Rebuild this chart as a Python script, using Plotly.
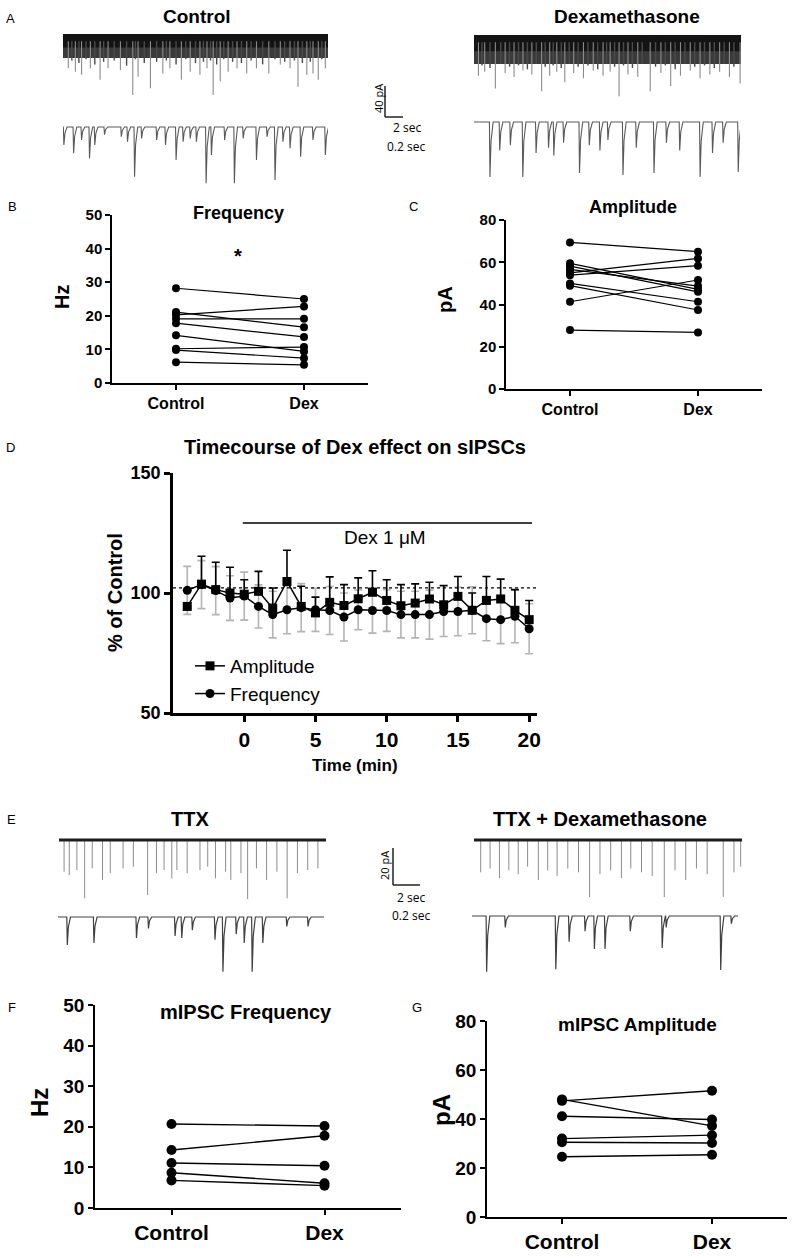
import plotly.graph_objects as go

W, H = 800, 1258
FONT = "Arial, 'Liberation Sans', sans-serif"

# ---------------- data ----------------
categories = ["Control", "Dex"]

# B: sIPSC frequency (Hz), paired cells
freq_control = [28.2, 20.3, 21.1, 19.1, 17.8, 14.2, 10.2, 9.8, 6.2]
freq_dex = [25.0, 22.8, 16.6, 19.1, 13.7, 9.4, 10.7, 7.4, 5.4]
freq_ticks = [0, 10, 20, 30, 40, 50]

# C: sIPSC amplitude (pA), paired cells
amp_control = [69.4, 27.9, 41.3, 55.0, 53.9, 59.5, 58.2, 56.6, 50.0, 48.9]
amp_dex = [65.0, 26.8, 51.6, 61.8, 58.4, 47.2, 46.0, 48.7, 41.3, 37.4]
amp_ticks = [0, 20, 40, 60, 80]

# D: timecourse (% of control)
time_min = [-4, -3, -2, -1, 0, 1, 2, 3, 4, 5, 6, 7, 8, 9, 10, 11, 12, 13, 14, 15, 16, 17, 18, 19, 20]
amp_pct = [94.4, 103.7, 101.4, 100.0, 99.5, 100.7, 93.7, 104.8, 94.4, 91.7, 96.1, 94.8, 97.6,
           100.3, 96.9, 94.7, 95.8, 97.5, 95.1, 98.6, 92.8, 96.9, 97.5, 92.8, 88.9]
amp_pct_err = [1.5, 11.6, 11.4, 10.7, 6.0, 8.3, 8.4, 13.0, 8.4, 6.6, 10.6, 8.7, 8.7,
               9.0, 8.6, 8.8, 8.0, 7.0, 8.0, 8.3, 7.2, 10.0, 8.3, 8.6, 8.0]
freq_pct = [101.1, 103.5, 101.0, 97.9, 98.7, 94.4, 91.0, 93.0, 93.9, 93.0, 92.7, 90.0, 93.0,
            92.7, 92.7, 91.0, 91.0, 91.0, 92.3, 92.3, 92.8, 89.3, 88.9, 90.3, 85.1]
freq_pct_err = [10.0, 10.0, 10.0, 9.3, 10.0, 9.0, 9.7, 10.0, 10.0, 9.0, 10.0, 10.0, 8.3,
                9.4, 8.7, 9.7, 9.7, 10.2, 10.4, 10.1, 9.8, 9.2, 10.0, 11.0, 10.4]
time_ticks = [0, 5, 10, 15, 20]
pct_ticks = [50, 100, 150]
dex_window = [-0.1, 20.2]
dex_bar_level = 129.2
baseline_level = 102.1

# F: mIPSC frequency (Hz)
mfreq_control = [20.7, 14.3, 11.1, 8.7, 6.8]
mfreq_dex = [20.2, 17.8, 10.4, 6.1, 5.5]
# G: mIPSC amplitude (pA)
mamp_control = [47.4, 48.0, 41.1, 32.0, 30.5, 24.6]
mamp_dex = [51.5, 37.2, 39.8, 33.4, 30.2, 25.4]

# A: example sIPSC traces (event time, event amplitude)
ctrl_top_t = [0.6, 1.4, 2.1, 3.1, 4.2, 5.1, 6.5, 7.9, 8.5, 9.9, 11.3, 12.1, 13.4, 14.4, 15.5, 16.3, 17.0,
              17.8, 18.7, 19.7, 20.8, 21.9, 23.3, 24.6, 25.7, 26.6, 27.6, 28.3, 28.9, 29.7]
ctrl_top_a = [25, 27.7, 30, 25, 34, 25, 26.4, 45.7, 31.5, 40.5, 29, 25, 34, 27.7, 30, 25, 45.7,
              35, 27.7, 25, 29, 25, 29, 22, 25, 39.3, 30, 29, 34, 25]
ctrl_top_small_t = [1.0, 1.8, 2.6, 3.6, 4.6, 5.8, 7.2, 8.2, 9.2, 10.6, 11.7, 12.8, 13.9, 15.0, 15.9, 16.7,
                    17.4, 18.2, 19.2, 20.2, 21.3, 22.6, 24.0, 25.1, 26.2, 27.1, 28.0, 29.3]
ctrl_top_small_a = [19, 21, 18, 22, 20, 19, 23, 18, 21, 20, 19, 22, 18, 21, 20, 19, 22, 18, 20, 21,
                    19, 22, 18, 20, 19, 21, 20, 18]
dex_top_t = [0.5, 1.2, 2.4, 3.5, 4.5, 5.5, 6.5, 7.6, 8.5, 9.3, 10.2, 11.2, 12.3, 13.4, 14.5, 15.3, 16.3,
             17.3, 18.4, 19.8, 21.0, 22.1, 23.2, 24.3, 25.4, 26.5, 27.6, 28.7, 29.9]
dex_top_a = [30, 27, 40, 28, 31, 26, 29, 42, 30, 27, 35, 28, 32, 26, 30, 27, 46, 29, 31, 42, 28, 38,
             30, 26, 32, 29, 27, 31, 36]
dex_top_small_t = [0.9, 1.8, 3.0, 4.0, 5.0, 6.0, 7.0, 8.0, 8.9, 9.8, 10.7, 11.7, 12.8, 13.9, 14.9, 15.8,
                   16.8, 17.8, 18.9, 20.4, 21.5, 22.6, 23.7, 24.8, 25.9, 27.0, 28.1, 29.2]
dex_top_small_a = [22, 24, 21, 23, 22, 25, 21, 23, 22, 24, 21, 23, 22, 25, 21, 23, 22, 24, 21, 23,
                   22, 25, 21, 23, 22, 24, 21, 23]
ctrl_bot_t = [0.01, 0.12, 0.21, 0.30, 0.36, 0.47, 0.66, 0.73, 0.81, 0.89, 1.06, 1.16, 1.28, 1.36, 1.44,
              1.51, 1.62, 1.68, 1.83, 1.94, 2.04, 2.19, 2.31, 2.40, 2.49, 2.57, 2.69, 2.83, 2.97]
ctrl_bot_a = [14, 20.4, 10, 24.3, 14, 6, 7.5, 11.4, 38.5, 8.8, 10, 14, 25.6, 11.4, 8.8, 11.4, 43.6,
              21.7, 10, 43.6, 8.8, 25.6, 7.5, 41, 11.4, 16.5, 23, 10, 21.7]
dex_bot_t = [0.18, 0.29, 0.41, 0.55, 0.70, 0.84, 0.90, 1.01, 1.19, 1.30, 1.42, 1.51, 1.68, 1.83, 2.03,
             2.17, 2.32, 2.55, 2.69, 2.81, 2.98]
dex_bot_a = [42.6, 22, 18, 42.6, 24, 20, 26, 16, 39.5, 18, 22, 14, 41, 20, 39.5, 16, 22, 42.6, 24, 16, 38.8]

# E: example mIPSC traces (event time, event amplitude)
ttx_top_t = [0.38, 0.77, 1.34, 1.92, 2.49, 3.26, 3.84, 4.80, 5.57, 6.64, 7.30, 7.87, 8.45, 8.83, 9.60,
             10.56, 11.14, 11.72, 12.48, 12.87, 13.63, 14.13, 14.79, 15.55, 16.32, 17.09, 17.86, 18.63, 19.39]
ttx_top_a = [16.7, 18.4, 15.8, 30.7, 14.9, 21, 17.5, 14.9, 14, 28.9, 17.5, 15.8, 20.2, 15.8, 17.5,
             15.8, 14, 20.2, 16.7, 21, 17.5, 31.2, 14.9, 21, 16.7, 30.7, 17.5, 15.8, 14.9]
ttxdex_top_t = [0.5, 1.2, 1.9, 2.6, 3.3, 4.0, 4.8, 5.5, 6.2, 7.0, 7.8, 8.63, 9.4, 10.2, 11.0, 11.7, 12.5,
                13.3, 14.2, 15.0, 15.8, 16.6, 17.4, 18.6, 19.4, 19.9]
ttxdex_top_a = [17, 15, 20, 16, 18, 14, 21, 16, 19, 15, 17, 30, 18, 16, 20, 15, 17, 19, 30, 16, 21, 15,
                18, 30, 17, 14]
ttx_bot_t = [0.07, 0.27, 0.59, 0.68, 0.88, 0.93, 1.01, 1.18, 1.24, 1.34, 1.40, 1.46, 1.54, 1.72, 1.88]
ttx_bot_a = [14.7, 13.7, 11, 6, 10, 11, 7, 12, 28.8, 9, 13.7, 28.8, 13.7, 5, 5]
ttxdex_bot_t = [0.11, 0.25, 0.63, 0.73, 0.85, 0.92, 1.00, 1.19, 1.43, 1.46, 1.87, 1.95]
ttxdex_bot_a = [29.3, 6, 28, 13.5, 8, 17.4, 17.4, 8, 16.8, 6, 28.4, 4]

# ---------------- layout helpers ----------------
def px_x(p):
    return p / W


def px_y(p):
    return 1 - p / H


def dom_x(a, b):
    return [a / W, b / W]


def dom_y(top, bottom):
    return [1 - bottom / H, 1 - top / H]


def ax_name(n, kind):
    return f"{kind}axis" if n == 1 else f"{kind}axis{n}"


def ref(n, kind):
    return kind if n == 1 else f"{kind}{n}"


layout = dict(
    width=W, height=H, autosize=False,
    margin=dict(l=0, r=0, t=0, b=0, pad=0, autoexpand=False),
    paper_bgcolor="white", plot_bgcolor="white",
    font=dict(family=FONT, color="black"),
    showlegend=True,
)
fig = go.Figure()


def trace_axes(n, x0, x1, top, bot, duration, base_px, ppu):
    layout[ax_name(n, "x")] = dict(domain=dom_x(x0, x1), range=[0, duration], visible=False,
                                   anchor=ref(n, "y"), fixedrange=True, automargin=False)
    layout[ax_name(n, "y")] = dict(domain=dom_y(top, bot),
                                   range=[-(bot - base_px) / ppu, (base_px - top) / ppu],
                                   visible=False, anchor=ref(n, "x"), fixedrange=True, automargin=False)


def add_line(n, xs, ys, color, width, fill=None, fillcolor=None):
    fig.add_trace(go.Scatter(x=xs, y=ys, mode="lines", line=dict(color=color, width=width),
                             fill=fill, fillcolor=fillcolor, hoverinfo="skip", showlegend=False,
                             xaxis=ref(n, "x"), yaxis=ref(n, "y")))


def spikes(n, times, amps, start, color, width):
    xs, ys = [], []
    for t, a in zip(times, amps):
        xs += [t, t, None]
        ys += [start, -a, None]
    add_line(n, xs, ys, color, width)


def event_line(n, times, amps, dur, w, color, width):
    xs, ys = [0], [0]
    for t, a in zip(times, amps):
        xs += [t - w, t, t + 2 * w, t + 6 * w]
        ys += [0, -a, -0.35 * a, 0]
    xs.append(dur)
    ys.append(0)
    add_line(n, xs, ys, color, width)


def band(n, dur, depth, color):
    add_line(n, [0, dur, dur, 0, 0], [1.5, 1.5, -depth, -depth, 1.5], color, 0, fill="toself", fillcolor=color)


# ---------------- A traces ----------------
trace_axes(1, 63, 328, 30, 102, 30, 36, 1.29)
band(1, 30, 17, "#3a3a3a")
band(1, 30, 9, "#141414")
spikes(1, ctrl_top_small_t, ctrl_top_small_a, -4, "#4a4a4a", 1.4)
spikes(1, ctrl_top_t, ctrl_top_a, -4, "#8c8c8c", 1.1)

trace_axes(2, 63, 328, 115, 190, 3, 127, 1.29)
event_line(2, ctrl_bot_t, ctrl_bot_a, 3, 0.006, "#5a5a5a", 1.1)

trace_axes(3, 474, 741, 30, 102, 30, 37, 1.29)
band(3, 30, 21, "#3a3a3a")
band(3, 30, 11, "#141414")
spikes(3, dex_top_small_t, dex_top_small_a, -4, "#4a4a4a", 1.4)
spikes(3, dex_top_t, dex_top_a, -4, "#8c8c8c", 1.1)

trace_axes(4, 474, 740, 112, 185, 3, 122, 1.29)
event_line(4, dex_bot_t, dex_bot_a, 3, 0.006, "#5a5a5a", 1.1)

# ---------------- E traces ----------------
trace_axes(8, 59, 326, 830, 905, 20, 840, 1.9)
spikes(8, ttx_top_t, ttx_top_a, 0, "#8c8c8c", 1.0)
add_line(8, [0, 20], [0, 0], "#1e1e1e", 3)

trace_axes(9, 58, 324, 905, 978, 2, 917, 1.9)
event_line(9, ttx_bot_t, ttx_bot_a, 2, 0.004, "#404040", 1.2)

trace_axes(10, 474, 742, 830, 905, 20, 840, 1.9)
spikes(10, ttxdex_top_t, ttxdex_top_a, 0, "#8c8c8c", 1.0)
add_line(10, [0, 20], [0, 0], "#1e1e1e", 3)

trace_axes(11, 472, 738, 905, 978, 2, 916, 1.9)
event_line(11, ttxdex_bot_t, ttxdex_bot_a, 2, 0.004, "#404040", 1.2)


# ---------------- paired panels ----------------
def paired_axes(n, x0, x1, top, bot, yticks, ytick_size, xtick_size, lw):
    layout[ax_name(n, "x")] = dict(
        domain=dom_x(x0, x1), anchor=ref(n, "y"), type="category",
        categoryorder="array", categoryarray=categories, range=[-0.5, 1.5],
        showline=True, linecolor="black", linewidth=lw, ticks="outside", ticklen=5,
        tickwidth=lw, tickcolor="black", showgrid=False, zeroline=False, automargin=False,
        tickfont=dict(size=xtick_size, weight="bold", family=FONT), fixedrange=True)
    layout[ax_name(n, "y")] = dict(
        domain=dom_y(top, bot), anchor=ref(n, "x"), range=[yticks[0], yticks[-1]],
        tickvals=yticks, showline=True, linecolor="black", linewidth=lw, ticks="outside",
        ticklen=5, tickwidth=lw, tickcolor="black", showgrid=False, zeroline=False, automargin=False,
        tickfont=dict(size=ytick_size, weight="bold", family=FONT), fixedrange=True)


def paired_points(n, ctrl, dex, msize, lwidth):
    for c, d in zip(ctrl, dex):
        fig.add_trace(go.Scatter(x=categories, y=[c, d], mode="lines+markers",
                                 line=dict(color="black", width=lwidth),
                                 marker=dict(color="black", size=msize),
                                 showlegend=False, cliponaxis=False,
                                 xaxis=ref(n, "x"), yaxis=ref(n, "y")))


paired_axes(5, 112, 368, 215, 383, freq_ticks, 15, 16, 1.5)
paired_points(5, freq_control, freq_dex, 8, 1.2)
paired_axes(6, 506, 762, 220, 389, amp_ticks, 15, 16, 1.5)
paired_points(6, amp_control, amp_dex, 8, 1.2)
paired_axes(12, 95, 401, 1005, 1208, freq_ticks, 19, 21, 1.8)
paired_points(12, mfreq_control, mfreq_dex, 10, 1.4)
paired_axes(13, 487, 787, 1021, 1217, amp_ticks, 19, 21, 1.8)
paired_points(13, mamp_control, mamp_dex, 10, 1.4)

# ---------------- D timecourse ----------------
layout["xaxis7"] = dict(domain=dom_x(173, 537), anchor="y7", range=[-5, 20.55], tickvals=time_ticks,
                        showline=True, linecolor="black", linewidth=2.5, ticks="outside", ticklen=6,
                        tickwidth=2.5, tickcolor="black", showgrid=False, zeroline=False, automargin=False,
                        tickfont=dict(size=21, weight="bold", family=FONT), fixedrange=True)
layout["yaxis7"] = dict(domain=dom_y(473, 713), anchor="x7", range=[50, 150], tickvals=pct_ticks,
                        showline=True, linecolor="black", linewidth=2.5, ticks="outside", ticklen=6,
                        tickwidth=2.5, tickcolor="black", showgrid=False, zeroline=False, automargin=False,
                        tickfont=dict(size=18, weight="bold", family=FONT), fixedrange=True)

fig.add_trace(go.Scatter(
    x=time_min, y=freq_pct, mode="lines+markers", name="Frequency", legendgroup="f", legendrank=2,
    marker=dict(symbol="circle", size=9, color="black"), line=dict(color="black", width=1.5),
    error_y=dict(type="data", array=freq_pct_err, symmetric=True, color="#b4b4b4", thickness=1.6, width=4),
    xaxis="x7", yaxis="y7"))
fig.add_trace(go.Scatter(
    x=time_min, y=amp_pct, mode="lines+markers", name="Amplitude", legendgroup="a", legendrank=1,
    marker=dict(symbol="square", size=9, color="black"), line=dict(color="black", width=1.5),
    error_y=dict(type="data", array=amp_pct_err, arrayminus=[0 for _ in amp_pct_err], symmetric=False,
                 color="black", thickness=1.6, width=4),
    xaxis="x7", yaxis="y7"))

layout["legend"] = dict(x=px_x(190), y=px_y(647), xanchor="left", yanchor="top",
                        bgcolor="rgba(0,0,0,0)", font=dict(size=19, family=FONT),
                        itemwidth=30, tracegroupgap=6, traceorder="normal")

shapes = [
    dict(type="line", xref="x7", yref="y7", x0=-5, x1=20.55, y0=baseline_level, y1=baseline_level,
         line=dict(color="black", width=1.2, dash="dot")),
    dict(type="line", xref="x7", yref="y7", x0=dex_window[0], x1=dex_window[1],
         y0=dex_bar_level, y1=dex_bar_level, line=dict(color="black", width=1.5)),
    # scale bars
    dict(type="line", xref="paper", yref="paper", x0=px_x(385), x1=px_x(385), y0=px_y(86), y1=px_y(117),
         line=dict(color="black", width=1.3)),
    dict(type="line", xref="paper", yref="paper", x0=px_x(385), x1=px_x(403), y0=px_y(117), y1=px_y(117),
         line=dict(color="black", width=1.3)),
    dict(type="line", xref="paper", yref="paper", x0=px_x(393), x1=px_x(393), y0=px_y(848), y1=px_y(885),
         line=dict(color="black", width=1.3)),
    dict(type="line", xref="paper", yref="paper", x0=px_x(393), x1=px_x(420), y0=px_y(885), y1=px_y(885),
         line=dict(color="black", width=1.3)),
]
layout["shapes"] = shapes

ann = []


def text(x, y, s, size, bold=False, angle=0, family=FONT, xanchor="center"):
    ann.append(dict(x=px_x(x), y=px_y(y), xref="paper", yref="paper", text=s, showarrow=False,
                    xanchor=xanchor, yanchor="middle", textangle=angle,
                    font=dict(size=size, family=family, weight="bold" if bold else "normal", color="black")))


# panel letters
for lab, x, y in [("A", 10, 18), ("B", 12, 207), ("C", 413, 206), ("D", 10, 448),
                  ("E", 11, 819), ("F", 12, 1007), ("G", 417, 1007)]:
    text(x, y, lab, 13)

# titles
text(197, 17, "Control", 19, True)
text(627, 17, "Dexamethasone", 19, True)
text(238, 213, "Frequency", 18, True)
text(633, 207, "Amplitude", 18, True)
text(238, 256, "*", 20, True)
text(355, 447, "Timecourse of Dex effect on sIPSCs", 20, True)
text(190, 819, "TTX", 20, True)
text(600, 819, "TTX + Dexamethasone", 20, True)
text(246, 1012, "mIPSC Frequency", 20, True)
text(637, 1024, "mIPSC Amplitude", 19, True)

# axis titles
text(62, 297, "Hz", 20, True, -90)
text(445, 300, "pA", 20, True, -90)
text(115, 592, "% of Control", 20, True, -90)
text(355, 765, "Time (min)", 17, True)
text(39, 1103, "Hz", 24, True, -90)
text(441, 1110, "pA", 24, True, -90)
ann.append(dict(x=9.9, y=123.3, xref="x7", yref="y7", text="Dex 1 \u03bcM", showarrow=False,
                font=dict(size=19, family=FONT, color="black")))

# scale bar labels
SB = "'Open Sans', 'Noto Sans', sans-serif"
text(378, 99, "40 pA", 11, False, -90, SB)
text(407, 127, "2 sec", 12, False, 0, SB)
text(406, 146, "0.2 sec", 12, False, 0, SB)
text(384, 866, "20 pA", 11, False, -90, SB)
text(411, 897, "2 sec", 12, False, 0, SB)
text(411, 915, "0.2 sec", 12, False, 0, SB)

layout["annotations"] = ann
fig.update_layout(**layout)
fig.write_html("out.html", config={"displayModeBar": False},
               post_script="document.body.style.margin='0';document.body.style.padding='0';")
